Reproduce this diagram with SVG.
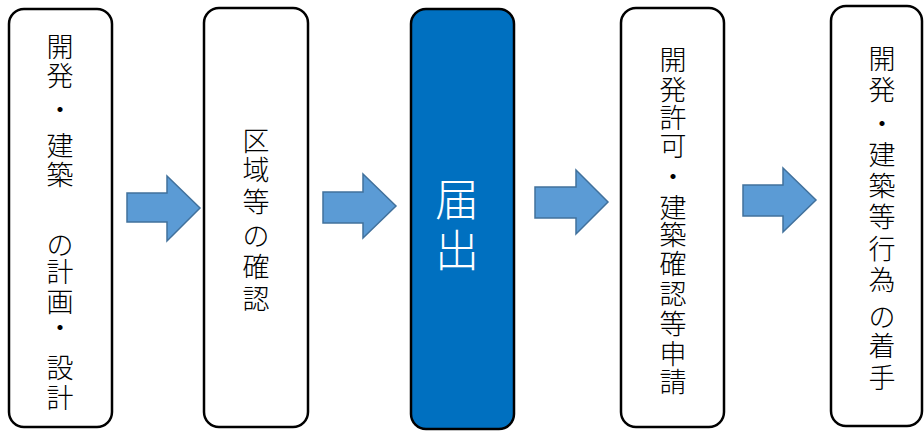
<svg xmlns="http://www.w3.org/2000/svg" width="924" height="432" viewBox="0 0 924 432">
<style>
.box{fill:#ffffff;stroke:#000000;stroke-width:2.5}
.box.hl{fill:#0070C0}
.t{font-family:"Noto Sans CJK JP","Noto Sans CJK SC",sans-serif;font-size:27px;font-weight:300;fill:#000;text-anchor:middle;dominant-baseline:central}
.t.w{fill:#ffffff;font-size:44px}
.arrow{fill:#5B9BD5;stroke:#41719C;stroke-width:1.5;stroke-linejoin:miter}
</style>
<rect width="924" height="432" fill="#ffffff"/>
<g id="connectors">
<path class="arrow" d="M127,193 H167 V176 L200,208 L167,241 V222 H127 Z"/>
<path class="arrow" d="M323,192 H363 V174 L396,206 L363,238 V223 H323 Z"/>
<path class="arrow" d="M535,187 H576 V170 L608,202 L576,234 V218 H535 Z"/>
<path class="arrow" d="M743,185 H783 V168 L816,200 L783,232 V216 H743 Z"/>
</g>
<g id="node1">
<rect class="box" x="9" y="9" width="103" height="418" rx="15"/>
<text class="t"><tspan x="60" y="45">開</tspan><tspan x="60" y="74">発</tspan><tspan x="60" y="108">・</tspan><tspan x="60" y="144">建</tspan><tspan x="60" y="173">築</tspan><tspan x="60" y="208">　</tspan><tspan x="60" y="243">の</tspan><tspan x="60" y="270">計</tspan><tspan x="60" y="300">画</tspan><tspan x="60" y="326">・</tspan><tspan x="60" y="366">設</tspan><tspan x="60" y="396">計</tspan></text>
</g>
<g id="node2">
<rect class="box" x="204" y="8" width="104" height="419" rx="15"/>
<text class="t"><tspan x="256" y="139">区</tspan><tspan x="256" y="168">域</tspan><tspan x="256" y="200">等</tspan><tspan x="256" y="234">の</tspan><tspan x="256" y="265">確</tspan><tspan x="256" y="297">認</tspan></text>
</g>
<g id="node3">
<rect class="box hl" x="411" y="9" width="103" height="420" rx="15"/>
<text class="t w"><tspan x="457" y="197">届</tspan><tspan x="457" y="248">出</tspan></text>
</g>
<g id="node4">
<rect class="box" x="621" y="8" width="103" height="419" rx="15"/>
<text class="t"><tspan x="673" y="58">開</tspan><tspan x="673" y="88">発</tspan><tspan x="673" y="116">許</tspan><tspan x="673" y="144">可</tspan><tspan x="673" y="175">・</tspan><tspan x="673" y="206">建</tspan><tspan x="673" y="233">築</tspan><tspan x="673" y="262">確</tspan><tspan x="673" y="292">認</tspan><tspan x="673" y="322">等</tspan><tspan x="673" y="352">申</tspan><tspan x="673" y="380">請</tspan></text>
</g>
<g id="node5">
<rect class="box" x="831" y="6" width="91" height="420" rx="15"/>
<text class="t"><tspan x="882" y="57">開</tspan><tspan x="882" y="88">発</tspan><tspan x="882" y="122">・</tspan><tspan x="882" y="153">建</tspan><tspan x="882" y="184">築</tspan><tspan x="882" y="215">等</tspan><tspan x="882" y="247">行</tspan><tspan x="882" y="278">為</tspan><tspan x="882" y="315">の</tspan><tspan x="882" y="344">着</tspan><tspan x="882" y="376">手</tspan></text>
</g>
</svg>
